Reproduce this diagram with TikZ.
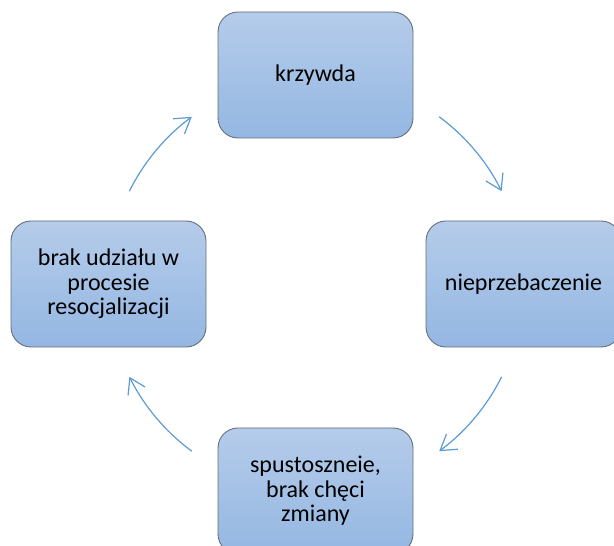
\documentclass[tikz,border=0pt]{standalone}
\usepackage{fontspec}
\setmainfont{Carlito}
\usetikzlibrary{arrows.meta}

\definecolor{boxtop}{RGB}{181,204,234}
\definecolor{boxbottom}{RGB}{148,183,226}
\definecolor{boxline}{RGB}{100,110,125}
\definecolor{arrowblue}{RGB}{91,155,213}

\begin{document}
\begin{tikzpicture}[
    x=1pt, y=1pt,
    stage/.style={draw=boxline, line width=0.9pt, rounded corners=20pt,
        top color=boxtop, bottom color=boxbottom,
        minimum width=195pt, minimum height=126pt, align=center,
        font=\fontsize{24}{24.5}\selectfont},
    cycle arrow/.style={draw=arrowblue, line width=1.2pt,
        -{Straight Barb[length=15pt,width=19pt]}}
]
    \useasboundingbox (0,0) rectangle (614,546);
    \clip (0,0) rectangle (614,546);
    % Centre of the cycle
    \coordinate (c) at (315.5,262);
    % Stages, clockwise from the top
    \node[stage] (krzywda) at (315.5,471) {krzywda};
    \node[stage] (nieprzebaczenie) at (523.5,262) {nieprzebaczenie};
    \node[stage] (spustoszenie) at (315.5,55) {spustoszneie,\\brak chęci\\zmiany};
    \node[stage] (brak) at (108.5,262) {brak udziału w\\procesie\\resocjalizacji};
    % Arrows round the cycle
    \draw[cycle arrow] (c) ++(53.5:208) arc[start angle=53.5, end angle=26.5, radius=208];
    \draw[cycle arrow] (c) ++(-26.5:208) arc[start angle=-26.5, end angle=-53.5, radius=208];
    \draw[cycle arrow] (c) ++(-126.5:208) arc[start angle=-126.5, end angle=-153.5, radius=208];
    \draw[cycle arrow] (c) ++(153.5:208) arc[start angle=153.5, end angle=126.5, radius=208];
\end{tikzpicture}
\end{document}
